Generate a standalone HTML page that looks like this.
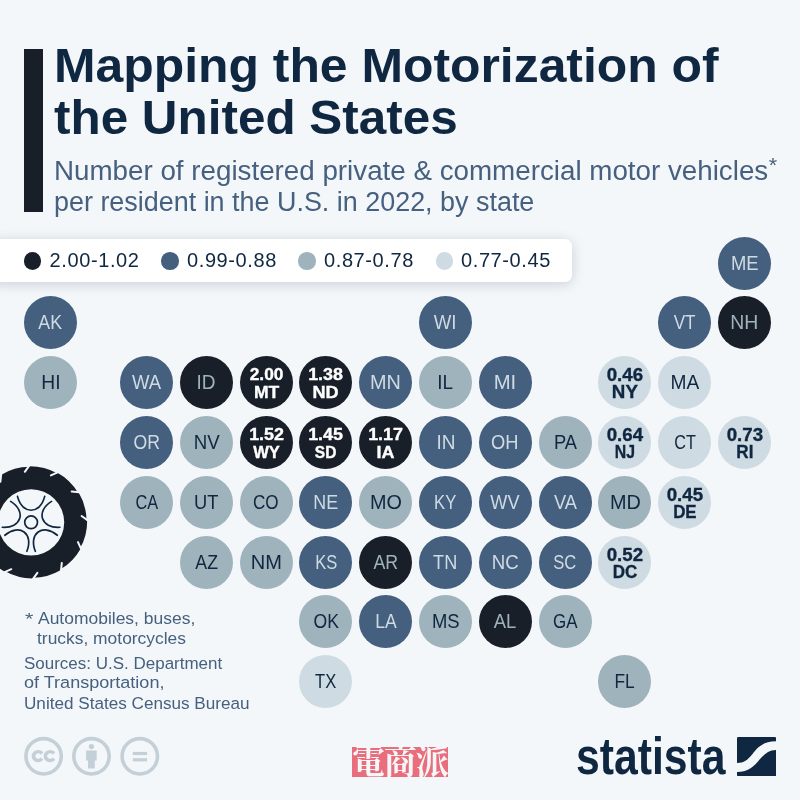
<!DOCTYPE html>
<html><head><meta charset="utf-8"><title>Mapping the Motorization of the United States</title>
<style>
html,body{margin:0;padding:0}
body{width:800px;height:800px;background:#f4f7fa;position:relative;overflow:hidden;font-family:"Liberation Sans",sans-serif}
.abs{position:absolute;white-space:nowrap}
.bar{position:absolute;left:24px;top:49px;width:18.5px;height:162.5px;background:#191f29}
.t{font-weight:bold;font-size:48.7px;line-height:50px;color:#0f2741;left:54px;transform-origin:0 0;transform:scaleX(1.024)}
.sub{font-size:27px;line-height:30px;color:#46607f;left:53.5px;transform-origin:0 0;transform:scaleX(0.997)}
.leg{position:absolute;left:-10px;top:239px;width:581.8px;height:43px;background:#fff;border-radius:7px;box-shadow:0 2px 13px rgba(30,50,80,.2)}
.dot{position:absolute;width:17.4px;height:17.4px;border-radius:50%;top:252.3px}
.lt{font-size:20px;line-height:22px;color:#0f2741;top:249.2px;letter-spacing:.6px}
.s{position:absolute;width:53.2px;height:53.2px;border-radius:50%;display:flex;align-items:center;justify-content:center;text-align:center;font-size:19.8px;line-height:20px}
.s span{display:block;position:relative;top:-.5px}
.s.v{font-weight:bold;font-size:16px;line-height:18px;-webkit-text-stroke:.35px currentColor}
.s.v span{position:relative;top:1.7px}
.s i{display:block;font-style:normal}
.l.v{font-size:18.4px;line-height:17px}
.l.v span{top:.5px}
.d{background:#191f29;color:#9fb3bc}
.d.v{color:#fff}
.b{background:#455f7f;color:#cfdbe2}
.m{background:#9fb3bc;color:#0f2741}
.l{background:#cfdbe2;color:#0f2741}
.f{font-size:17.2px;line-height:19.7px;color:#46607f;left:24px;transform-origin:0 0}
.stamp{position:absolute;left:352px;top:747px;width:95.5px;height:30px;background:#e96d7a;color:#f4f7fa;font-family:"Liberation Serif","Noto Serif CJK SC",serif;font-weight:bold;font-size:33px;line-height:29px;letter-spacing:-1.2px;text-align:center;white-space:nowrap}
.logo{font-weight:bold;font-size:52px;line-height:60px;color:#0f2741;left:575.7px;top:726.3px;transform-origin:0 0;transform:scaleX(.821)}
</style></head><body>
<div class="bar"></div>
<div class="abs t" style="top:40.3px;left:54.4px">Mapping the Motorization of</div>
<div class="abs t" style="top:92.1px;left:54.3px;transform:scaleX(1.015)">the United States</div>
<div class="abs sub" style="top:155.8px;transform:scaleX(1.028)">Number of registered private &amp; commercial motor vehicles<span style="font-size:21px;position:relative;top:-7.5px;left:.5px">*</span></div>
<div class="abs sub" style="top:186.9px">per resident in the U.S. in 2022, by state</div>
<div class="leg"></div>
<div class="dot" style="left:24.1px;background:#191f29"></div><div class="abs lt" style="left:49.6px">2.00-1.02</div>
<div class="dot" style="left:161.3px;background:#455f7f"></div><div class="abs lt" style="left:187px">0.99-0.88</div>
<div class="dot" style="left:298.4px;background:#9fb3bc"></div><div class="abs lt" style="left:324px">0.87-0.78</div>
<div class="dot" style="left:435.8px;background:#cfdbe2"></div><div class="abs lt" style="left:461px">0.77-0.45</div>
<div class="s b" style="left:717.9px;top:236.6px"><span style="transform:scaleX(0.933)">ME</span></div>
<div class="s b" style="left:24.0px;top:296.3px"><span style="transform:scaleX(0.898)">AK</span></div>
<div class="s b" style="left:418.9px;top:296.3px"><span style="transform:scaleX(0.943)">WI</span></div>
<div class="s b" style="left:658.1px;top:296.3px"><span style="transform:scaleX(0.868)">VT</span></div>
<div class="s d" style="left:717.9px;top:296.3px"><span style="transform:scaleX(0.981)">NH</span></div>
<div class="s m" style="left:24.0px;top:356.1px"><span style="transform:scaleX(0.976)">HI</span></div>
<div class="s b" style="left:119.9px;top:356.1px"><span style="transform:scaleX(0.938)">WA</span></div>
<div class="s d" style="left:179.7px;top:356.1px"><span style="transform:scaleX(0.961)">ID</span></div>
<div class="s d v" style="left:239.5px;top:356.1px"><span><i style="transform:scaleX(1.081)">2.00</i><i style="transform:scaleX(1.096)">MT</i></span></div>
<div class="s d v" style="left:299.3px;top:356.1px"><span><i style="transform:scaleX(1.117)">1.38</i><i style="transform:scaleX(1.131)">ND</i></span></div>
<div class="s b" style="left:359.1px;top:356.1px"><span style="transform:scaleX(1.003)">MN</span></div>
<div class="s m" style="left:418.9px;top:356.1px"><span style="transform:scaleX(0.961)">IL</span></div>
<div class="s b" style="left:478.7px;top:356.1px"><span style="transform:scaleX(1.024)">MI</span></div>
<div class="s l v" style="left:598.3px;top:356.1px"><span><i style="transform:scaleX(1.018)">0.46</i><i style="transform:scaleX(1.019)">NY</i></span></div>
<div class="s l" style="left:658.1px;top:356.1px"><span style="transform:scaleX(0.969)">MA</span></div>
<div class="s b" style="left:119.9px;top:415.9px"><span style="transform:scaleX(0.891)">OR</span></div>
<div class="s m" style="left:179.7px;top:415.9px"><span style="transform:scaleX(0.944)">NV</span></div>
<div class="s d v" style="left:239.5px;top:415.9px"><span><i style="transform:scaleX(1.117)">1.52</i><i style="transform:scaleX(1.034)">WY</i></span></div>
<div class="s d v" style="left:299.3px;top:415.9px"><span><i style="transform:scaleX(1.117)">1.45</i><i style="transform:scaleX(0.969)">SD</i></span></div>
<div class="s d v" style="left:359.1px;top:415.9px"><span><i style="transform:scaleX(1.117)">1.17</i><i style="transform:scaleX(1.118)">IA</i></span></div>
<div class="s b" style="left:418.9px;top:415.9px"><span style="transform:scaleX(0.961)">IN</span></div>
<div class="s b" style="left:478.7px;top:415.9px"><span style="transform:scaleX(0.925)">OH</span></div>
<div class="s m" style="left:538.5px;top:415.9px"><span style="transform:scaleX(0.925)">PA</span></div>
<div class="s l v" style="left:598.3px;top:415.9px"><span><i style="transform:scaleX(1.018)">0.64</i><i style="transform:scaleX(0.861)">NJ</i></span></div>
<div class="s l" style="left:658.1px;top:415.9px"><span style="transform:scaleX(0.820)">CT</span></div>
<div class="s l v" style="left:717.9px;top:415.9px"><span><i style="transform:scaleX(1.018)">0.73</i><i style="transform:scaleX(0.930)">RI</i></span></div>
<div class="s m" style="left:119.9px;top:475.7px"><span style="transform:scaleX(0.825)">CA</span></div>
<div class="s m" style="left:179.7px;top:475.7px"><span style="transform:scaleX(0.926)">UT</span></div>
<div class="s m" style="left:239.5px;top:475.7px"><span style="transform:scaleX(0.864)">CO</span></div>
<div class="s b" style="left:299.3px;top:475.7px"><span style="transform:scaleX(0.905)">NE</span></div>
<div class="s m" style="left:359.1px;top:475.7px"><span style="transform:scaleX(1.002)">MO</span></div>
<div class="s b" style="left:418.9px;top:475.7px"><span style="transform:scaleX(0.841)">KY</span></div>
<div class="s b" style="left:478.7px;top:475.7px"><span style="transform:scaleX(0.916)">WV</span></div>
<div class="s b" style="left:538.5px;top:475.7px"><span style="transform:scaleX(0.923)">VA</span></div>
<div class="s m" style="left:598.3px;top:475.7px"><span style="transform:scaleX(1.003)">MD</span></div>
<div class="s l v" style="left:658.1px;top:475.7px"><span><i style="transform:scaleX(1.018)">0.45</i><i style="transform:scaleX(0.919)">DE</i></span></div>
<div class="s m" style="left:179.7px;top:535.5px"><span style="transform:scaleX(0.895)">AZ</span></div>
<div class="s m" style="left:239.5px;top:535.5px"><span style="transform:scaleX(1.014)">NM</span></div>
<div class="s b" style="left:299.3px;top:535.5px"><span style="transform:scaleX(0.836)">KS</span></div>
<div class="s d" style="left:359.1px;top:535.5px"><span style="transform:scaleX(0.898)">AR</span></div>
<div class="s b" style="left:418.9px;top:535.5px"><span style="transform:scaleX(0.915)">TN</span></div>
<div class="s b" style="left:478.7px;top:535.5px"><span style="transform:scaleX(0.944)">NC</span></div>
<div class="s b" style="left:538.5px;top:535.5px"><span style="transform:scaleX(0.838)">SC</span></div>
<div class="s l v" style="left:598.3px;top:535.5px"><span><i style="transform:scaleX(1.018)">0.52</i><i style="transform:scaleX(0.922)">DC</i></span></div>
<div class="s m" style="left:299.3px;top:595.3px"><span style="transform:scaleX(0.891)">OK</span></div>
<div class="s b" style="left:359.1px;top:595.3px"><span style="transform:scaleX(0.889)">LA</span></div>
<div class="s m" style="left:418.9px;top:595.3px"><span style="transform:scaleX(0.933)">MS</span></div>
<div class="s d" style="left:478.7px;top:595.3px"><span style="transform:scaleX(0.932)">AL</span></div>
<div class="s m" style="left:538.5px;top:595.3px"><span style="transform:scaleX(0.857)">GA</span></div>
<div class="s l" style="left:299.3px;top:655.1px"><span style="transform:scaleX(0.837)">TX</span></div>
<div class="s m" style="left:598.3px;top:655.1px"><span style="transform:scaleX(0.876)">FL</span></div>
<svg class="tire" width="120" height="140" viewBox="0 450 120 140" style="position:absolute;left:0;top:450px">
<g transform="translate(31.1 522.3)">
<path d="M26.34 -49.53A55.80 55.80 0 0 1 47.07 -29.41L47.58 -29.73A55.80 55.80 0 0 1 55.47 -1.94L56.07 -1.96A55.80 55.80 0 0 1 49.00 26.06L49.53 26.34A55.80 55.80 0 0 1 29.41 47.07L29.73 47.58A55.80 55.80 0 0 1 1.94 55.47L1.96 56.07A55.80 55.80 0 0 1 -26.06 49.00L-26.34 49.53A55.80 55.80 0 0 1 -47.07 29.41L-47.58 29.73A55.80 55.80 0 0 1 -55.47 1.94L-56.07 1.96A55.80 55.80 0 0 1 -49.00 -26.06L-49.53 -26.34A55.80 55.80 0 0 1 -29.41 -47.07L-29.73 -47.58A55.80 55.80 0 0 1 -1.94 -55.47L-1.96 -56.07A55.80 55.80 0 0 1 26.06 -49.00Z" fill="#191f29"/>
<path transform="rotate(-67.1)" d="M50.9 0L58 6.6" stroke="#f4f7fa" stroke-width="2" stroke-linecap="round" fill="none"/><path transform="rotate(-37.1)" d="M50.9 0L58 6.6" stroke="#f4f7fa" stroke-width="2" stroke-linecap="round" fill="none"/><path transform="rotate(-7.1)" d="M50.9 0L58 6.6" stroke="#f4f7fa" stroke-width="2" stroke-linecap="round" fill="none"/><path transform="rotate(22.9)" d="M50.9 0L58 6.6" stroke="#f4f7fa" stroke-width="2" stroke-linecap="round" fill="none"/><path transform="rotate(52.9)" d="M50.9 0L58 6.6" stroke="#f4f7fa" stroke-width="2" stroke-linecap="round" fill="none"/><path transform="rotate(82.9)" d="M50.9 0L58 6.6" stroke="#f4f7fa" stroke-width="2" stroke-linecap="round" fill="none"/><path transform="rotate(112.9)" d="M50.9 0L58 6.6" stroke="#f4f7fa" stroke-width="2" stroke-linecap="round" fill="none"/><path transform="rotate(142.9)" d="M50.9 0L58 6.6" stroke="#f4f7fa" stroke-width="2" stroke-linecap="round" fill="none"/><path transform="rotate(172.9)" d="M50.9 0L58 6.6" stroke="#f4f7fa" stroke-width="2" stroke-linecap="round" fill="none"/><path transform="rotate(202.9)" d="M50.9 0L58 6.6" stroke="#f4f7fa" stroke-width="2" stroke-linecap="round" fill="none"/><path transform="rotate(232.9)" d="M50.9 0L58 6.6" stroke="#f4f7fa" stroke-width="2" stroke-linecap="round" fill="none"/><path transform="rotate(262.9)" d="M50.9 0L58 6.6" stroke="#f4f7fa" stroke-width="2" stroke-linecap="round" fill="none"/>
<circle r="33.1" fill="#f4f7fa"/>
<g fill="none" stroke="#0f2741" stroke-width="1.7" stroke-linecap="round">
<circle r="6.4"/>
<path transform="rotate(0)" d="M-13.6 -25.9C-9 -7.4 9 -7.4 13.6 -25.9"/><path transform="rotate(72)" d="M-13.6 -25.9C-9 -7.4 9 -7.4 13.6 -25.9"/><path transform="rotate(144)" d="M-13.6 -25.9C-9 -7.4 9 -7.4 13.6 -25.9"/><path transform="rotate(216)" d="M-13.6 -25.9C-9 -7.4 9 -7.4 13.6 -25.9"/><path transform="rotate(288)" d="M-13.6 -25.9C-9 -7.4 9 -7.4 13.6 -25.9"/>
</g>
</g>
</svg>
<div class="abs f" style="top:609.9px;left:24.8px;transform:scaleX(1.25)">*</div>
<div class="abs f" style="top:608.7px;left:37.5px;transform:scaleX(1.016)">Automobiles, buses,</div>
<div class="abs f" style="top:628.5px;left:37.3px;transform:scaleX(1.013)">trucks, motorcycles</div>
<div class="abs f" style="top:653.9px;transform:scaleX(0.988)">Sources: U.S. Department</div>
<div class="abs f" style="top:673.2px;transform:scaleX(1.05)">of Transportation,</div>
<div class="abs f" style="top:693.7px;transform:scaleX(0.996)">United States Census Bureau</div>
<svg style="position:absolute;left:20px;top:732px" width="150" height="50" viewBox="20 732 150 50">
<g fill="none" stroke="#c4d0d8" stroke-width="3.6">
<circle cx="43.6" cy="756.3" r="17.7"/><circle cx="91.5" cy="756.3" r="17.7"/><circle cx="139.8" cy="756.3" r="17.7"/>
<path d="M42.1 753.5A4.8 4.3 0 1 0 42.1 758.7M54 753.5A4.8 4.3 0 1 0 54 758.7" stroke-width="3.6"/>
</g>
<g fill="#c4d0d8"><circle cx="91.4" cy="746.6" r="2.7"/><path d="M86.1 750.4h10.6v10h-1.9v8h-6.8v-8h-1.9z"/>
<rect x="132.8" y="751.9" width="14.3" height="3.2"/><rect x="132.8" y="758.2" width="14.3" height="3.2"/></g>
</svg>
<div class="stamp"><span style="display:inline-block;transform:translateY(1.6px) scaleY(1.05)">電商派</span></div>
<div class="abs logo">statista</div>
<svg style="position:absolute;left:736.6px;top:736.9px" width="39.2" height="39.2" viewBox="0 0 39.2 39.2"><rect width="39.2" height="39.2" rx="1.2" fill="#0f2741"/><path d="M0 25.9C18 25.9 14 4.35 39.2 4.35V13C22.2 13 21.8 35.1 0 35.1Z" fill="#f4f7fa"/></svg>
</body></html>
